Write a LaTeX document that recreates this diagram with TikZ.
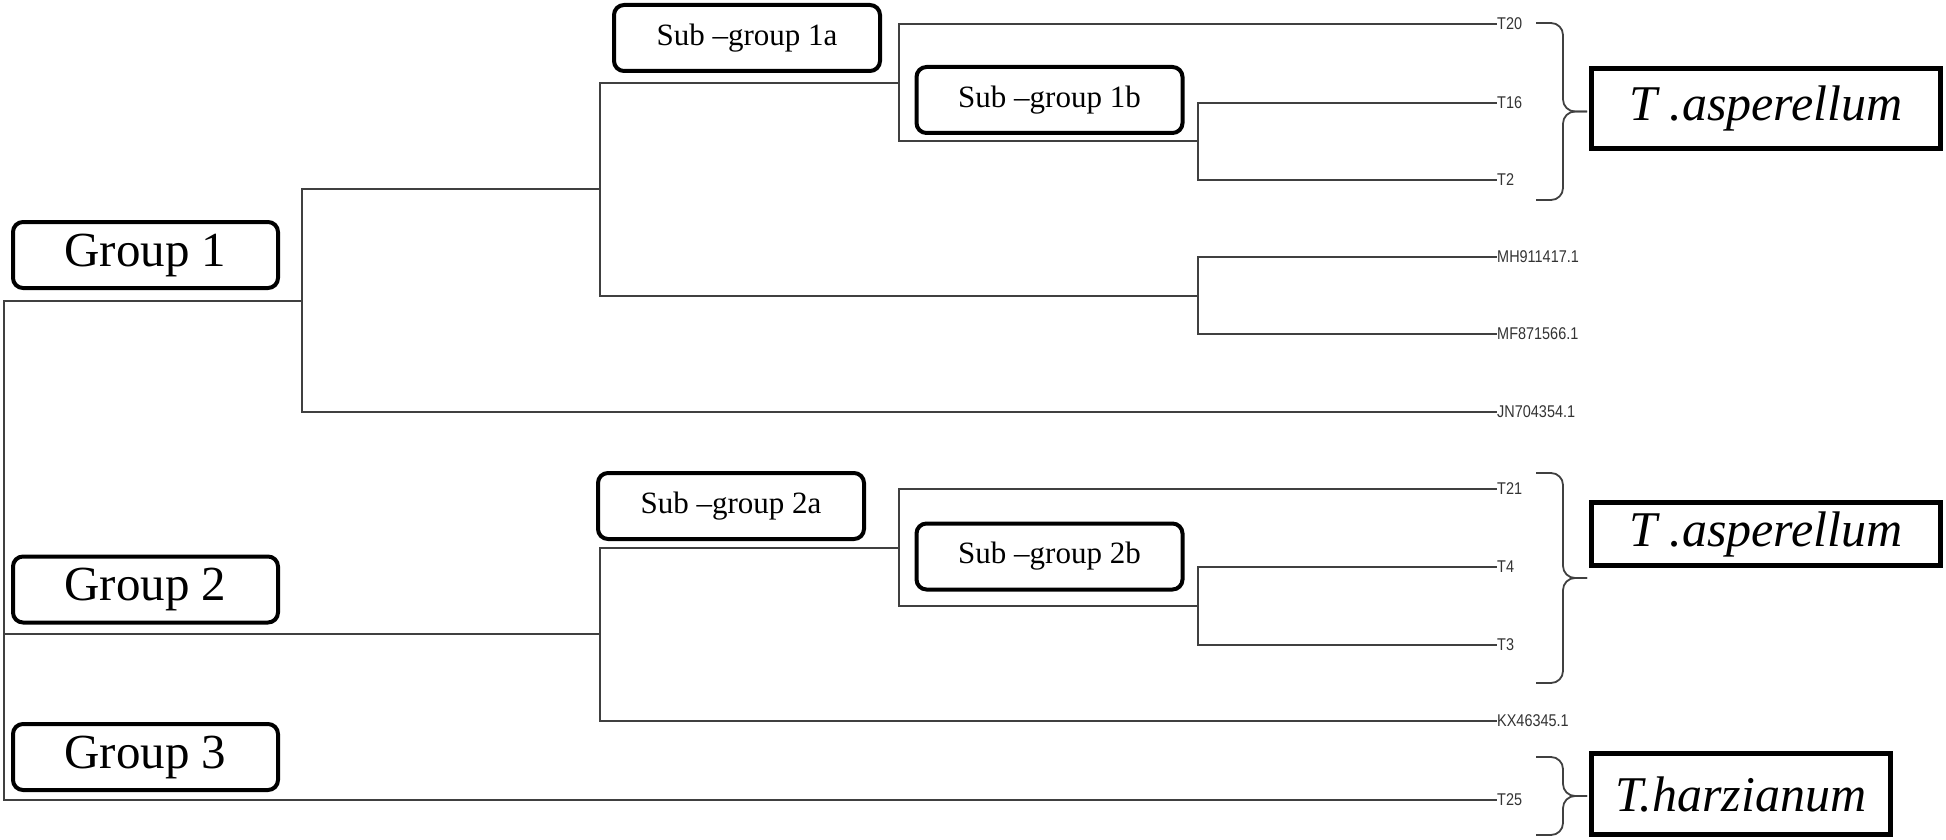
\documentclass[tikz,border=0pt]{standalone}
\usepackage{fontspec}
\setmainfont{Liberation Serif}
\newfontfamily\leaffont[FakeStretch=0.85]{Liberation Sans}

\begin{document}
\begin{tikzpicture}[
    x=1pt, y=-1pt,
    branch/.style={draw=black!75, line width=2pt},
    leaf/.style={anchor=west, inner sep=0pt, text=black!80, font=\leaffont\fontsize{17}{17}\selectfont},
    grp/.style={draw, line width=4pt, rounded corners=10pt, fill=white, minimum width=265pt, minimum height=66pt, inner sep=0pt, font=\fontsize{49}{50}\selectfont},
    subgrp/.style={grp, minimum width=266pt, font=\fontsize{31}{33}\selectfont},
    species/.style={draw, line width=5pt, fill=white, inner sep=0pt, font=\itshape\fontsize{50}{52}\selectfont},
    clade/.style={draw=black!75, line width=1.8pt, rounded corners=12pt}
]
\useasboundingbox (0,0) rectangle (1946,840);

% internal nodes of the tree
\coordinate (root) at (4,550);
\coordinate (g1) at (302,300.5);
\coordinate (s1) at (600,189);
\coordinate (s1a) at (899,83);
\coordinate (s1b) at (1198,141.5);
\coordinate (m1) at (1198,295.5);
\coordinate (g2) at (600,634);
\coordinate (s2a) at (899,547.5);
\coordinate (s2b) at (1198,606);

% leaves
\node[leaf] (T20) at (1497,24) {T20};
\node[leaf] (T16) at (1497,103) {T16};
\node[leaf] (T2) at (1497,180) {T2};
\node[leaf] (MH) at (1497,257) {MH911417.1};
\node[leaf] (MF) at (1497,334) {MF871566.1};
\node[leaf] (JN) at (1497,412) {JN704354.1};
\node[leaf] (T21) at (1497,489) {T21};
\node[leaf] (T4) at (1497,567) {T4};
\node[leaf] (T3) at (1497,645) {T3};
\node[leaf] (KX) at (1497,721) {KX46345.1};
\node[leaf] (T25) at (1497,800) {T25};

% branches
\draw[branch] (root) |- (g1);
\draw[branch] (root) |- (g2);
\draw[branch] (root) |- (T25.west);
\draw[branch] (g1) |- (s1);
\draw[branch] (g1) |- (JN.west);
\draw[branch] (s1) |- (s1a);
\draw[branch] (s1) |- (m1);
\draw[branch] (s1a) |- (T20.west);
\draw[branch] (s1a) |- (s1b);
\draw[branch] (s1b) |- (T16.west);
\draw[branch] (s1b) |- (T2.west);
\draw[branch] (m1) |- (MH.west);
\draw[branch] (m1) |- (MF.west);
\draw[branch] (g2) |- (s2a);
\draw[branch] (g2) |- (KX.west);
\draw[branch] (s2a) |- (T21.west);
\draw[branch] (s2a) |- (s2b);
\draw[branch] (s2b) |- (T4.west);
\draw[branch] (s2b) |- (T3.west);

% group labels
\node[grp] (group1) at (145.5,255) {Group 1};
\node[grp] (group2) at (145.5,589.5) {Group 2};
\node[grp] (group3) at (145.5,757) {Group 3};
\node[subgrp] (sub1a) at (747,38) {Sub –group 1a};
\node[subgrp] (sub1b) at (1049.5,100) {Sub –group 1b};
\node[subgrp] (sub2a) at (731,506) {Sub –group 2a};
\node[subgrp] (sub2b) at (1049.5,556.5) {Sub –group 2b};

% species
\node[species, minimum width=349pt, minimum height=80pt] (asp1) at (1766,108.5) {T .asperellum};
\node[species, minimum width=349pt, minimum height=63pt] (asp2) at (1766,534) {T .asperellum};
\node[species, minimum width=299pt, minimum height=81pt] (harz) at (1741,794) {T.harzianum};

\coordinate (tip1) at (1587,111.5);
\coordinate (tip2) at (1587,578);
\coordinate (tip3) at (1587,796);
\draw[clade] (1536,23) -| ([xshift=-24pt]tip1) -- (tip1);
\draw[clade] (1536,200) -| ([xshift=-24pt]tip1) -- (tip1);
\draw[clade] (1536,473) -| ([xshift=-24pt]tip2) -- (tip2);
\draw[clade] (1536,683) -| ([xshift=-24pt]tip2) -- (tip2);
\draw[clade] (1536,757) -| ([xshift=-24pt]tip3) -- (tip3);
\draw[clade] (1536,835) -| ([xshift=-24pt]tip3) -- (tip3);
\end{tikzpicture}
\end{document}
